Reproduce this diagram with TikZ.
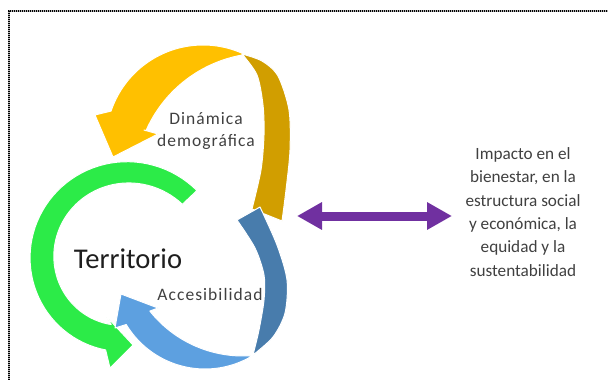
\documentclass[tikz,border=0pt]{standalone}
\usepackage{fontspec}
\setmainfont{Carlito}
\newfontfamily\spacedfont{Carlito}[LetterSpace=6]
\usetikzlibrary{arrows.meta}
\definecolor{cyellow}{RGB}{255,192,0}
\definecolor{cgold}{RGB}{209,158,0}
\definecolor{cgreen}{RGB}{44,235,72}
\definecolor{cdblue}{RGB}{72,124,172}
\definecolor{clblue}{RGB}{93,160,224}
\definecolor{cpurple}{RGB}{112,48,160}
\definecolor{ctext}{RGB}{64,64,64}
\definecolor{cdark}{RGB}{30,30,30}
\begin{document}
\begin{tikzpicture}[x=1pt,y=-1pt,
  blob/.style={draw=white,line width=1pt,line join=round},
  lbl/.style={inner sep=0pt,anchor=base,text=ctext,align=center},
  fat/.style={cpurple,line width=9pt,{Triangle[length=25pt,width=26pt]}-{Triangle[length=25pt,width=26pt]}}]
\path[use as bounding box] (0,0) rectangle (608,380);
% frame
\draw[gray!60,line width=1.4pt] (9,380) -- (9,11) -- (608,11);
\draw[black,line width=1.4pt,dash pattern=on 1pt off 1pt] (9,380) -- (9,11) -- (608,11);
% green ring arrow
\fill[cgreen,blob] plot[domain=0:1,samples=60] ({125+(100-8*\x)*cos(-44-214*\x)},{260+(100-8*\x)*sin(-44-214*\x)})
  -- (110,368) -- (133,345) -- (106,316)
  -- plot[domain=1:0,samples=60] ({125+(80-14*\x)*cos(-44-214*\x)},{260+(80-14*\x)*sin(-44-214*\x)}) -- cycle;
% gold ribbon
\fill[cgold,blob] plot[smooth] coordinates {(242,54) (257,75) (263,105) (264,135) (261,170) (252,209)}
  -- (282,221)
  -- plot[smooth] coordinates {(282,221) (286,190) (290,150) (289,110) (278,76) (262,61) (242,54)} -- cycle;
% yellow arrow
\fill[cyellow,blob] plot[domain=-66.3:-161.4,samples=50] ({203+97*cos(\x)},{142+97*sin(\x)})
  -- (95,115) -- (113,157) -- (158,134) -- (144,130)
  -- plot[domain=-156.3:-100,samples=50] ({265+130*cos(\x)},{183+130*sin(\x)}) -- cycle;
% dark blue ribbon
\fill[cdblue,blob] (237,220) -- (260,207)
  -- plot[smooth] coordinates {(260,207) (277,245) (287,280) (285,313) (273,337) (253,355)}
  -- plot[smooth] coordinates {(253,355) (259,330) (264,300) (264,275) (255,248) (237,220)} -- cycle;
% light blue arrow
\fill[clblue,blob] plot[domain=58.4:148.9,samples=50] ({205+92*cos(\x)},{277+92*sin(\x)})
  -- (115,328) -- (121,294) -- (158,308) -- (150,311)
  -- plot[domain=141.5:85.2,samples=50] ({243+119*cos(\x)},{237+119*sin(\x)}) -- cycle;
% labels
\node[lbl,font=\spacedfont\fontsize{17.5}{22}\selectfont] (dyn) at (206,146) {Dinámica\\demográfica};
\node[lbl,text=cdark,font=\fontsize{28.6}{34}\selectfont] (terr) at (128,268) {Territorio};
\node[lbl,text=cdark!85,font=\spacedfont\fontsize{17.5}{22}\selectfont] (acc) at (210,300) {Accesibilidad};
\node[lbl,font=\fontsize{17.2}{23.3}\selectfont] (impact) at (523,276) {Impacto en el\\bienestar, en la\\estructura social\\y económica, la\\equidad y la\\sustentabilidad};
% double arrow
\coordinate (pl) at (297,216);
\coordinate (pr) at (452,216);
\draw[fat] (pl) -- (pr);
\end{tikzpicture}
\end{document}
